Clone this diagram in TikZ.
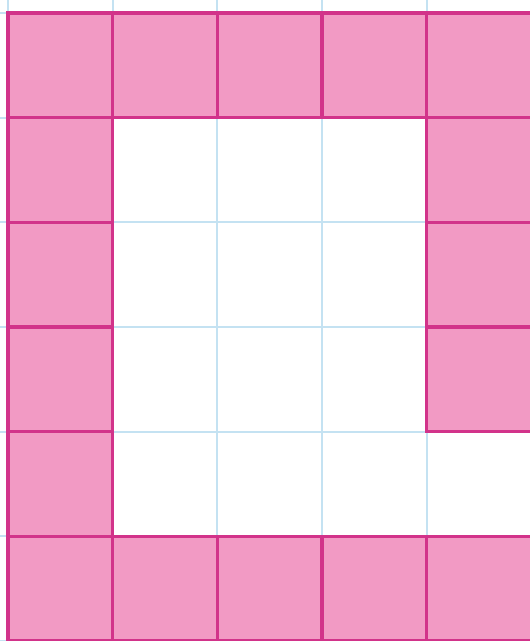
\documentclass[tikz,border=0pt]{standalone}
\usepackage{xcolor}
\usepackage{tikz}
\definecolor{ppink}{HTML}{F29AC4}
\definecolor{pmag}{HTML}{D2338A}
\definecolor{pblue}{HTML}{C4E2F2}

\begin{document}
\begin{tikzpicture}[
  x=1cm,y=1cm,
  gridln/.style={draw=pblue,line width=0.5pt},
  cell/.style={draw=pmag,fill=ppink,line width=0.9pt}]

\useasboundingbox (-0.076,0) rectangle (4.987,6.124);

% ------------------------------ background grid ----------------------------
\draw[gridln] (-0.076,0) grid (4.987,6.124);

% ------------------------------ pink frame ---------------------------------
% top and bottom rows
\foreach \i in {0,...,4} {
  \draw[cell] (\i,5) rectangle ++(1,1);
  \draw[cell] (\i,0) rectangle ++(1,1);
}
% left column
\foreach \j in {1,...,4}
  \draw[cell] (0,\j) rectangle ++(1,1);
% right column, open at the lower gap
\foreach \j in {2,...,4}
  \draw[cell] (4,\j) rectangle ++(1,1);
\end{tikzpicture}
\end{document}
